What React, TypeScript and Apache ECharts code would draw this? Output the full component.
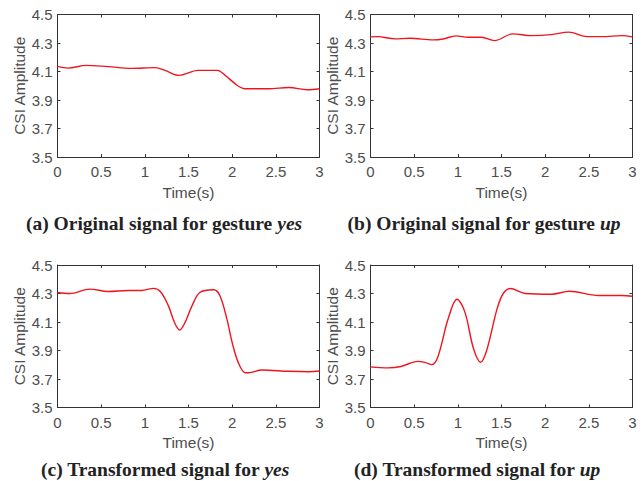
import React, { useEffect, useRef } from "react";
import * as echarts from "echarts";

// Time (s) / CSI amplitude samples
const timeA = [0, 0.12, 0.33, 0.58, 0.85, 1.12, 1.23, 1.39, 1.61, 1.83, 1.92, 2.06, 2.15, 2.42, 2.65, 2.86, 3];
const ampA = [4.136, 4.124, 4.143, 4.134, 4.122, 4.127, 4.108, 4.073, 4.108, 4.108, 4.073, 4.002, 3.979, 3.979, 3.988, 3.972, 3.979];

const timeB = [0, 0.08, 0.28, 0.45, 0.72, 0.83, 0.98, 1.12, 1.27, 1.42, 1.63, 1.84, 2.07, 2.27, 2.48, 2.65, 2.88, 3];
const ampB = [4.343, 4.345, 4.329, 4.333, 4.322, 4.328, 4.35, 4.34, 4.34, 4.317, 4.364, 4.352, 4.359, 4.376, 4.345, 4.345, 4.352, 4.343];

const timeC = [0, 0.14, 0.37, 0.58, 0.81, 0.96, 1.1, 1.18, 1.27, 1.34, 1.4, 1.46, 1.54, 1.63, 1.79, 1.86, 1.94, 2.0, 2.07, 2.15, 2.19, 2.34, 2.65, 2.88, 3];
const ampC = [4.307, 4.3, 4.331, 4.314, 4.321, 4.321, 4.336, 4.312, 4.213, 4.096, 4.044, 4.096, 4.213, 4.307, 4.326, 4.284, 4.12, 3.956, 3.815, 3.744, 3.744, 3.763, 3.754, 3.751, 3.756];

const timeD = [0, 0.2, 0.35, 0.54, 0.63, 0.7, 0.77, 0.89, 0.99, 1.08, 1.18, 1.26, 1.33, 1.45, 1.52, 1.6, 1.77, 2.07, 2.28, 2.61, 2.88, 3];
const ampD = [3.785, 3.778, 3.788, 3.824, 3.815, 3.801, 3.853, 4.124, 4.26, 4.171, 3.912, 3.818, 3.9, 4.194, 4.3, 4.335, 4.3, 4.295, 4.316, 4.286, 4.286, 4.281];

const yMin = 3.5;
const yMax = 4.5;
const yStep = 0.2;
const xMin = 0;
const xMax = 3;
const xStep = 0.5;

const captions = [
  { pre: "(a) Original signal for gesture ", word: "yes" },
  { pre: "(b) Original signal for gesture ", word: "up" },
  { pre: "(c) Transformed signal for ", word: "yes" },
  { pre: "(d) Transformed signal for ", word: "up" },
];

const panels = [
  { t: timeA, v: ampA, left: 57.5, top: 14.5, cap: [164, 223], yGap: 27.5 },
  { t: timeB, v: ampB, left: 370.5, top: 14.5, cap: [484, 223], yGap: 28.5 },
  { t: timeC, v: ampC, left: 57.5, top: 265, cap: [165, 469.5], yGap: 27.5 },
  { t: timeD, v: ampD, left: 370.5, top: 265, cap: [477, 469.5], yGap: 28.5 },
];

const TEXT = "#4d4d4d";
const LINE = "#333333";
const SANS = "'Liberation Sans', Arial, sans-serif";
const SERIF = "'Liberation Serif', 'DejaVu Serif', serif";

export default function App() {
  const ref = useRef<HTMLDivElement>(null);
  useEffect(() => {
    if (!ref.current) return;
    const chart = echarts.init(ref.current, null, { renderer: "svg" });
    const grids: any[] = [];
    const xAxes: any[] = [];
    const yAxes: any[] = [];
    const series: any[] = [];
    const graphics: any[] = [];
    panels.forEach((p, i) => {
      grids.push({ left: p.left, top: p.top, width: 262, height: 142.5, containLabel: false });
      const tick = { show: true, inside: true, length: 3, lineStyle: { color: LINE, width: 1 } };
      const axLine = { show: true, lineStyle: { color: LINE, width: 1 } };
      xAxes.push({
        type: "value", gridIndex: i, min: xMin, max: xMax, interval: xStep, position: "bottom",
        axisLine: { ...axLine, onZero: false }, axisTick: tick, splitLine: { show: false },
        axisLabel: { color: TEXT, fontSize: 15, fontFamily: SANS, margin: 7,
          formatter: (v: number) => String(v) },
        name: "Time(s)", nameLocation: "middle", nameGap: 27,
        nameTextStyle: { color: TEXT, fontSize: 15.5, fontFamily: SANS },
      });
      xAxes.push({
        type: "value", gridIndex: i, min: xMin, max: xMax, interval: xStep, position: "top",
        axisLine: { ...axLine, onZero: false }, axisTick: tick, splitLine: { show: false },
        axisLabel: { show: false },
      });
      yAxes.push({
        type: "value", gridIndex: i, min: 0, max: yMax - yMin, interval: yStep, position: "left",
        axisLine: { ...axLine, onZero: false }, axisTick: tick, splitLine: { show: false },
        axisLabel: { color: TEXT, fontSize: 15, fontFamily: SANS, margin: 5,
          formatter: (v: number) => (v + yMin).toFixed(1) },
        name: "CSI Amplitude", nameLocation: "middle", nameGap: p.yGap,
        nameTextStyle: { color: TEXT, fontSize: 15.5, fontFamily: SANS },
      });
      yAxes.push({
        type: "value", gridIndex: i, min: 0, max: yMax - yMin, interval: yStep, position: "right",
        axisLine: { ...axLine, onZero: false }, axisTick: tick, splitLine: { show: false },
        axisLabel: { show: false },
      });
      series.push({
        type: "line", xAxisIndex: i * 2, yAxisIndex: i * 2,
        data: p.t.map((t, k) => [t, p.v[k] - yMin]),
        smooth: 0.35, showSymbol: false, symbol: "none",
        lineStyle: { color: "#f0141e", width: 1.4 },
      });
      const c = captions[i];
      graphics.push({
        type: "text", x: p.cap[0], y: p.cap[1],
        style: {
          text: `{b|${c.pre}}{i|${c.word}}`,
          textAlign: "center", textVerticalAlign: "middle",
          rich: {
            b: { fontFamily: SERIF, fontWeight: "bold", fontSize: 19.5, fill: "#222222" },
            i: { fontFamily: SERIF, fontWeight: "bold", fontStyle: "italic", fontSize: 19.5, fill: "#222222" },
          },
        },
      });
    });
    chart.setOption({
      animation: false,
      backgroundColor: "#ffffff",
      grid: grids,
      xAxis: xAxes,
      yAxis: yAxes,
      series,
      graphic: graphics,
    });
    return () => chart.dispose();
  }, []);
  return (
    <div
      ref={ref}
      style={{ position: "absolute", left: 0, top: 0, width: 644, height: 481 }}
    />
  );
}
